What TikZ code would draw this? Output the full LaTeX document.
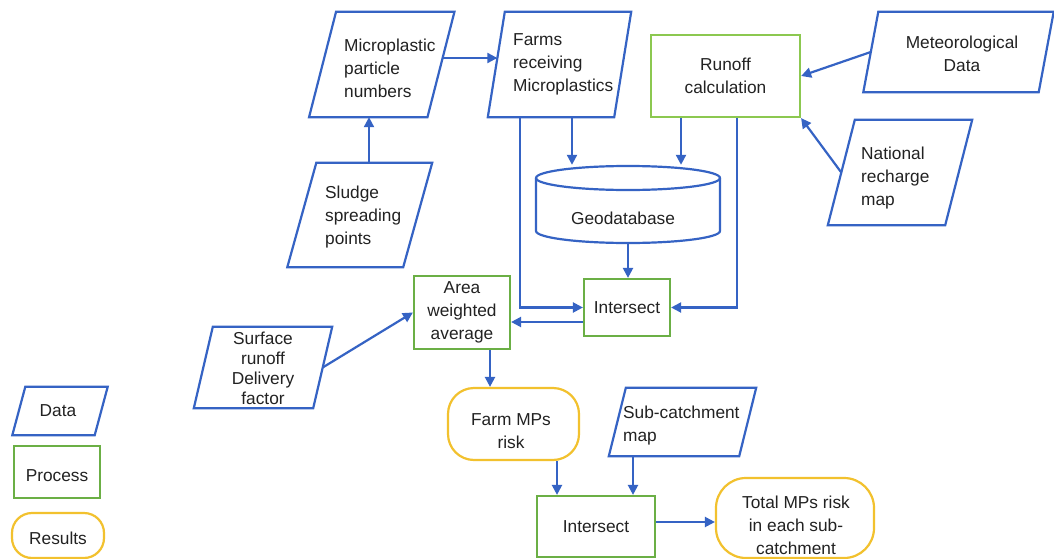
\documentclass[tikz,border=0pt]{standalone}
\usepackage{fontspec}
\setmainfont{Liberation Sans}
\usetikzlibrary{arrows.meta,calc}
\definecolor{dblue}{HTML}{3563C4}
\definecolor{pgreen}{HTML}{6BAF45}
\definecolor{lgreen}{HTML}{8CC850}
\definecolor{ryellow}{HTML}{F2C12E}
\definecolor{txt}{HTML}{222222}
% #1 name, #2 center, #3 width, #4 height, #5 half slant, #6 text options, #7 text position, #8 text
\newcommand\datanode[8]{%
  \node[minimum width=#3pt, minimum height=#4pt] (#1) at (#2) {};
  \draw[databox] ($(#1.north west)+(#5,0)$) -- ($(#1.north east)+(#5,0)$) -- ($(#1.south east)-(#5,0)$) -- ($(#1.south west)-(#5,0)$) -- cycle;
  \node[#6] at (#7) {#8};}
\begin{document}
\begin{tikzpicture}[x=1pt,y=-1pt,
  every node/.style={font=\fontsize{17.3}{23}\selectfont, text=txt, inner sep=0pt},
  databox/.style={draw=dblue, line width=2.2pt, line join=miter},
  procbox/.style={draw=pgreen, line width=2.2pt, align=center},
  resbox/.style={draw=ryellow, line width=2.2pt, rounded corners=26pt},
  lefttext/.style={anchor=west, align=left},
  midtext/.style={align=center},
  arr/.style={draw=dblue, line width=2.2pt, -{Triangle[length=10pt,width=10pt]}}]
\fill[white] (0,0) rectangle (1054,559);
\useasboundingbox (0,0) rectangle (1054,559);

% data nodes
\datanode{micro}{381.75,64.5}{118}{105}{13.5}{lefttext}{344,68}{Microplastic\\particle\\numbers}
\datanode{farms}{559.5,64.5}{126}{105}{8.5}{lefttext}{513,64}{Farms\\receiving\\Microplastics}
\datanode{meteo}{958.5,52}{175}{80}{7.5}{midtext}{962,53.5}{Meteorological\\Data}
\datanode{national}{900,172.5}{117}{105}{13.5}{lefttext}{861,178}{National\\recharge\\map}
\datanode{sludge}{359.75,215}{115.5}{104}{14.5}{lefttext}{325,217}{Sludge\\spreading\\points}
\datanode{surface}{263,367.5}{119}{81}{9.5}{midtext,font=\fontsize{17.3}{20}\selectfont}{263,368}{Surface\\runoff\\Delivery\\factor}
\datanode{subcatch}{682.5,422}{130}{68}{8.5}{lefttext}{623,426}{Sub-catchment\\map}
\datanode{ldata}{60,411}{82}{48}{6.5}{midtext}{58,411}{Data}

% process nodes
\node[procbox, draw=lgreen, minimum width=149pt, minimum height=82pt] (runoff) at (725.5,76) {Runoff\\calculation};
\node[procbox, minimum width=96pt, minimum height=73pt] (area) at (462,312.5) {Area\\weighted\\average};
\node[procbox, minimum width=86pt, minimum height=57pt] (inter1) at (627,307.5) {Intersect};
\node[procbox, minimum width=118pt, minimum height=61pt] (inter2) at (596,526.5) {Intersect};
\node[procbox, minimum width=86pt, minimum height=52pt] (lproc) at (57,472) {};
\node at (57,476) {Process};

% result nodes
\node[resbox, minimum width=131pt, minimum height=72pt] (farmrisk) at (513.5,424) {};
\node[midtext] at (511,431) {Farm MPs\\risk};
\node[resbox, rounded corners=30pt, minimum width=158pt, minimum height=80pt] (total) at (795,518) {};
\node[midtext] at (796,525) {Total MPs risk\\in each sub-\\catchment};
\node[resbox, rounded corners=20pt, minimum width=92pt, minimum height=45pt] (lres) at (58,535.5) {};
\node at (58,538) {Results};

% geodatabase cylinder
\node[minimum width=184pt, minimum height=78pt] (geo) at (628,204) {};
\draw[databox] (536,178) -- (536,231) .. controls (536,237.6) and (577.2,243) .. (628,243)
  .. controls (678.8,243) and (720,237.6) .. (720,231) -- (720,178);
\draw[databox] (628,178) ellipse [x radius=92, y radius=12];
\node at (623,218) {Geodatabase};

% connector start points
\coordinate (sl) at ($(sludge.north)+(9.25,0)$);
\coordinate (fa) at ($(farms.south)+(12.5,0)$);
\coordinate (fb) at ($(farms.south)+(-39.5,0)$);
\coordinate (ra) at ($(runoff.south)+(-44.5,0)$);
\coordinate (rb) at ($(runoff.south)+(11.5,0)$);
\coordinate (ia) at ($(inter1.west)+(0,14.5)$);
\coordinate (aa) at ($(area.south)+(28,0)$);
\coordinate (fr) at ($(farmrisk.south)+(43.5,0)$);
\coordinate (sc) at ($(subcatch.south)+(-49.5,0)$);
\coordinate (ib) at ($(inter2.east)+(0,-4.5)$);

% connectors
\draw[arr] (sl) -- (sl |- micro.south);
\draw[arr] ($(micro.east)+(1.7,-6.5)$) -- ($(farms.west)+(1,-6.5)$);
\draw[arr] (fa) -- (fa |- geo.north);
\draw[arr] (ra) -- (ra |- geo.north);
\draw[arr] (fb) |- (inter1.west);
\draw[arr] (rb) |- (inter1.east);
\draw[arr] (geo.south) -- (geo.south |- inter1.north);
\draw[arr] (ia) -- (ia -| area.east);
\draw[arr] (surface.east) -- (area.west);
\draw[arr] (aa) -- (aa |- farmrisk.north);
\draw[arr] (fr) -- (fr |- inter2.north);
\draw[arr] (sc) -- (sc |- inter2.north);
\draw[arr] (ib) -- (ib -| total.west);
\draw[arr] (meteo.west) -- (runoff.east);
\draw[arr] (national.west) -- (runoff.south east);
\end{tikzpicture}
\end{document}
